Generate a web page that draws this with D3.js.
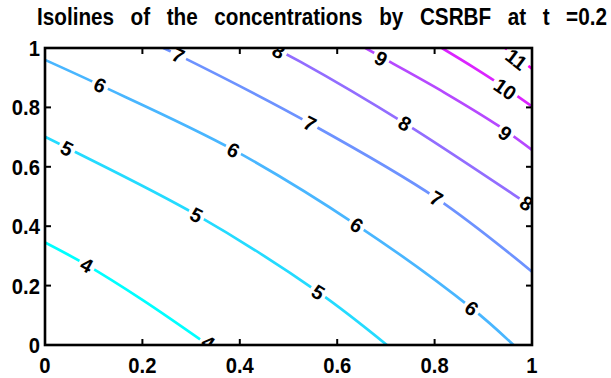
<!DOCTYPE html>
<html><head><meta charset="utf-8">
<script src="https://cdn.jsdelivr.net/npm/d3@7"></script>
<style>body{margin:0;background:#fff}svg{display:block}</style>
</head><body>
<svg id="chart" width="611" height="378"></svg>
<script>
// ---- data ----
const titleText = "Isolines of the concentrations by CSRBF at t =0.2";
const levels = [4, 5, 6, 7, 8, 9, 10, 11];
const xTicks = [0, 0.2, 0.4, 0.6, 0.8, 1];
const yTicks = [0, 0.2, 0.4, 0.6, 0.8, 1];
const xTickLabels = ["0", "0.2", "0.4", "0.6", "0.8", "1"];
const yTickLabels = ["0", "0.2", "0.4", "0.6", "0.8", "1"];

const iso4 = [[0,0.345],[0.086,0.269],[0.2,0.152],[0.335,0]];
const iso5 = [[0,0.701],[0.045,0.664],[0.311,0.438],[0.561,0.178],[0.702,0]];
const iso6 = [[0,0.96],[0.113,0.875],[0.387,0.657],[0.64,0.404],[0.876,0.124],[0.962,0]];
const iso7 = [[0.243,1],[0.274,0.976],[0.544,0.746],[0.804,0.494],[1,0.247]];
const iso8 = [[0.47,1],[0.524,0.954],[0.739,0.746],[0.989,0.477],[1,0.465]];
const iso9 = [[0.658,1],[0.701,0.96],[0.82,0.85],[0.934,0.735],[1,0.657]];
const iso10 = [[0.815,1],[0.88,0.935],[0.945,0.866],[1,0.803]];
const iso11 = [[0.945,1],[0.972,0.966],[1,0.93]];

const labels4 = [[0.086,0.269],[0.335,0.008]];
const labels5 = [[0.045,0.662],[0.311,0.438],[0.561,0.178]];
const labels6 = [[0.113,0.875],[0.387,0.657],[0.64,0.404],[0.876,0.124]];
const labels7 = [[0.274,0.976],[0.544,0.746],[0.804,0.494]];
const labels8 = [[0.48,0.99],[0.739,0.746],[0.989,0.477]];
const labels9 = [[0.69,0.965],[0.945,0.713]];
const labels10 = [[0.945,0.862]];
const labels11 = [[0.968,0.962]];

const isoLines = [iso4, iso5, iso6, iso7, iso8, iso9, iso10, iso11];
const isoLabels = [labels4, labels5, labels6, labels7, labels8, labels9, labels10, labels11];

// ---- layout ----
const svg = d3.select("#chart");
const L = 45, R = 532, T = 48, B = 345;
const x = d3.scaleLinear().domain([0, 1]).range([L, R]);
const y = d3.scaleLinear().domain([0, 1]).range([B, T]);
const color = d3.scaleLinear().domain([4, 11]).range(["#00ffff", "#ff00ff"]).interpolate(d3.interpolateRgb);
const FONT = "'Liberation Sans', Arial, Helvetica, sans-serif";

svg.append("defs").append("clipPath").attr("id", "plotclip")
  .append("rect").attr("x", L).attr("y", T).attr("width", R - L).attr("height", B - T);

const plot = svg.append("g").attr("clip-path", "url(#plotclip)");
const line = d3.line().x(d => x(d[0])).y(d => y(d[1])).curve(d3.curveCatmullRom.alpha(0.5));

levels.forEach((lv, i) => {
  plot.append("path").datum(isoLines[i]).attr("d", line)
    .attr("fill", "none").attr("stroke", color(lv)).attr("stroke-width", 2.7);
});

// labels
function placeOnLine(pts, p) {
  const px = pts.map(d => [x(d[0]), y(d[1])]);
  const q = [x(p[0]), y(p[1])];
  let best = null;
  for (let k = 0; k < px.length - 1; k++) {
    const a = px[k], b = px[k + 1];
    const dx = b[0] - a[0], dy = b[1] - a[1];
    let t = ((q[0] - a[0]) * dx + (q[1] - a[1]) * dy) / (dx * dx + dy * dy);
    t = Math.max(0, Math.min(1, t));
    const c = [a[0] + t * dx, a[1] + t * dy];
    const dist = Math.hypot(c[0] - q[0], c[1] - q[1]);
    if (!best || dist < best.dist) best = { dist, c, ang: Math.atan2(dy, dx) * 180 / Math.PI };
  }
  let ang = best.ang;
  if (ang > 90) ang -= 180;
  if (ang < -90) ang += 180;
  return { px: q[0], py: q[1], ang };
}

const labG = svg.append("g").attr("clip-path", "url(#plotclip)");
levels.forEach((lv, i) => {
  isoLabels[i].forEach(p => {
    const pl = placeOnLine(isoLines[i], p);
    const g = labG.append("g").attr("transform", `translate(${pl.px},${pl.py}) rotate(${pl.ang})`);
    const rect = g.append("rect").attr("fill", "#fff");
    const t = g.append("text").text(String(lv))
      .attr("text-anchor", "middle").attr("dy", "0.36em")
      .attr("font-family", FONT).attr("font-weight", "bold").attr("font-size", 20).attr("fill", "#000");
    const w = t.node().getComputedTextLength();
    rect.attr("x", -w / 2 - 3).attr("y", -5).attr("width", w + 6).attr("height", 10);
  });
});

// axes box and ticks
const ax = svg.append("g");
const tickLen = 6;
xTicks.forEach(v => {
  ax.append("line").attr("x1", x(v)).attr("x2", x(v)).attr("y1", B).attr("y2", B - tickLen).attr("stroke", "#000").attr("stroke-width", 2);
  ax.append("line").attr("x1", x(v)).attr("x2", x(v)).attr("y1", T).attr("y2", T + tickLen).attr("stroke", "#000").attr("stroke-width", 2);
});
yTicks.forEach(v => {
  ax.append("line").attr("x1", L).attr("x2", L + tickLen).attr("y1", y(v)).attr("y2", y(v)).attr("stroke", "#000").attr("stroke-width", 2);
  ax.append("line").attr("x1", R).attr("x2", R - tickLen).attr("y1", y(v)).attr("y2", y(v)).attr("stroke", "#000").attr("stroke-width", 2);
});
ax.append("rect").attr("x", L).attr("y", T).attr("width", R - L).attr("height", B - T)
  .attr("fill", "none").attr("stroke", "#000").attr("stroke-width", 2.6);

xTicks.forEach((v, i) => {
  ax.append("text").text(xTickLabels[i])
    .attr("transform", `translate(${x(v)},373) scale(0.92,1)`)
    .attr("text-anchor", "middle").attr("font-family", FONT).attr("font-weight", "bold").attr("font-size", 22).attr("fill", "#000");
});
yTicks.forEach((v, i) => {
  ax.append("text").text(yTickLabels[i])
    .attr("transform", `translate(40,${y(v)}) scale(0.92,1)`).attr("dy", "0.36em")
    .attr("text-anchor", "end").attr("font-family", FONT).attr("font-weight", "bold").attr("font-size", 22).attr("fill", "#000");
});

svg.append("text").text(titleText)
  .attr("transform", "translate(37,25) scale(0.9,1)")
  .attr("font-family", FONT).attr("font-weight", "bold").attr("font-size", 23)
  .attr("word-spacing", "12px").attr("fill", "#000");
</script>
</body></html>
